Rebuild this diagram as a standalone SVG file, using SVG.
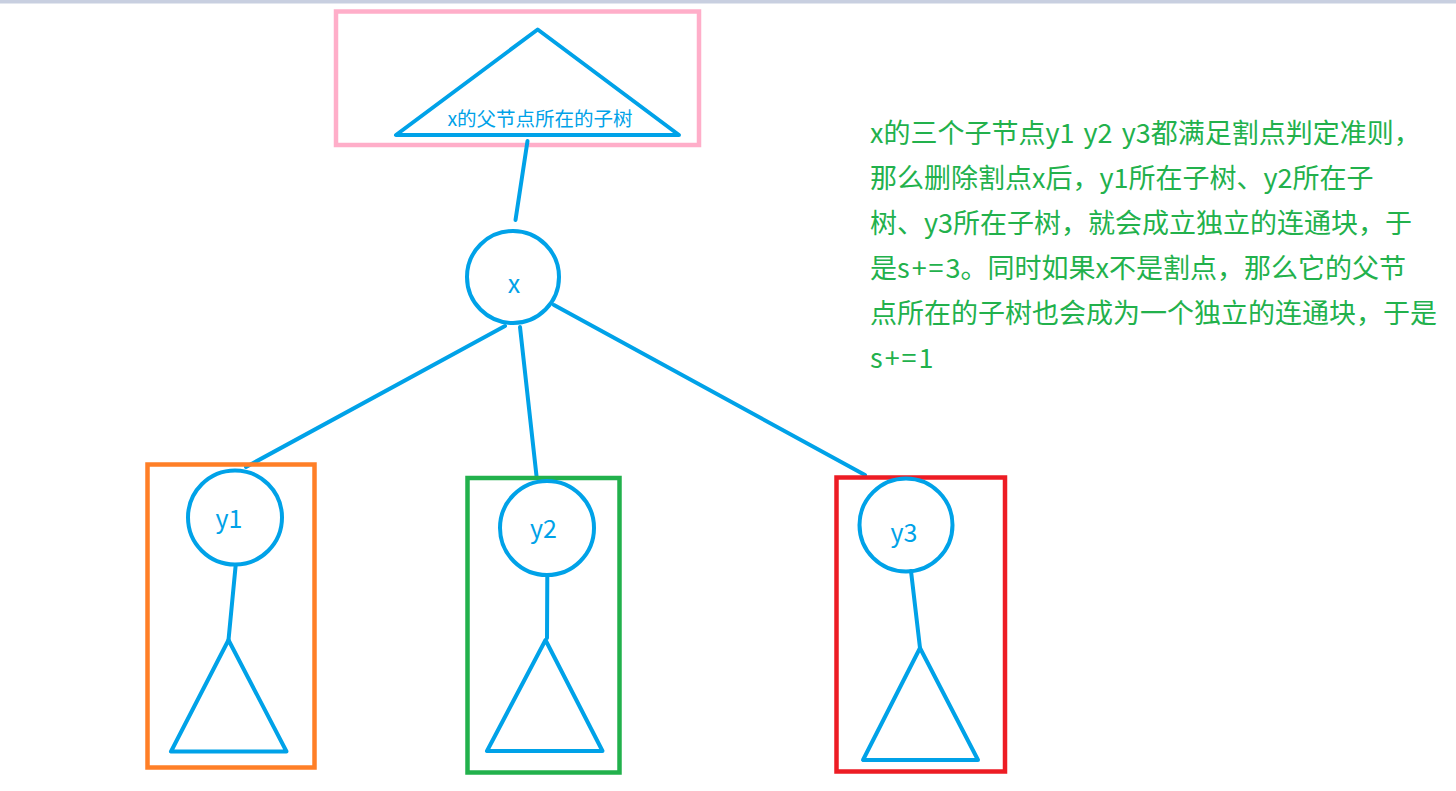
<svg xmlns="http://www.w3.org/2000/svg" width="1456" height="791" viewBox="0 0 1456 791">
<style>
.bl{fill:none;stroke:#00a2e8;stroke-width:4;stroke-linecap:round;stroke-linejoin:round}
.box{fill:none;stroke-width:4.5}
.lbl{fill:#00a2e8;font-family:"Noto Sans CJK SC","Noto Sans",sans-serif;text-anchor:middle}
.note{fill:#22b14c;font-family:"Noto Sans CJK SC","Noto Sans",sans-serif;font-size:27px;word-spacing:3px}
.sp{letter-spacing:2px}
</style>
<rect x="0" y="0" width="1456" height="791" fill="#ffffff"/>
<rect x="0" y="0" width="1456" height="3.5" fill="#c8cfe0"/>
<g id="parent-subtree">
<rect class="box" x="336" y="11.5" width="363" height="133.5" stroke="#ffaec9"/>
<polygon class="bl" points="537.7,29.5 396,135 679,135"/>
<text class="lbl" x="540" y="126" font-size="19.5">x的父节点所在的子树</text>
</g>
<g id="connectors">
<line class="bl" x1="527.5" y1="141" x2="515.5" y2="220"/>
<line class="bl" x1="505" y1="326" x2="246" y2="467"/>
<line class="bl" x1="520" y1="327" x2="536.5" y2="476"/>
<line class="bl" x1="554" y1="305" x2="865" y2="475"/>
<line class="bl" x1="235.7" y1="565" x2="228.5" y2="640"/>
<line class="bl" x1="547.3" y1="576" x2="547" y2="638"/>
<line class="bl" x1="911" y1="571" x2="920" y2="648"/>
</g>
<g id="node-x">
<circle class="bl" cx="513" cy="277" r="46"/>
<text class="lbl" x="514" y="293" font-size="25">x</text>
</g>
<g id="node-y1">
<rect class="box" x="147.5" y="464.5" width="167" height="303" stroke="#ff7f27"/>
<circle class="bl" cx="235" cy="517.5" r="47"/>
<text class="lbl" x="229" y="528" font-size="25">y1</text>
<polygon class="bl" points="228.5,640 171,751.5 286.5,751.5"/>
</g>
<g id="node-y2">
<rect class="box" x="467.5" y="478" width="152" height="294.5" stroke="#22b14c"/>
<circle class="bl" cx="547" cy="528" r="47"/>
<text class="lbl" x="543.5" y="538" font-size="25">y2</text>
<polygon class="bl" points="545.5,640 487,751 602.5,751"/>
</g>
<g id="node-y3">
<rect class="box" x="836.5" y="477.5" width="168.5" height="294" stroke="#ed1c24"/>
<circle class="bl" cx="906" cy="525" r="46.5"/>
<text class="lbl" x="904" y="541.5" font-size="25">y3</text>
<polygon class="bl" points="920,648 863,760 978,760"/>
</g>
<g id="note">
<text class="note" x="870" y="143">x的三个子节点y1 y2 y3都满足割点判定准则，</text>
<text class="note" x="870" y="188">那么删除割点x后，y1所在子树、y2所在子</text>
<text class="note" x="870" y="233">树、y3所在子树，就会成立独立的连通块，于</text>
<text class="note" x="870" y="278">是<tspan class="sp">s+=</tspan>3。同时如果x不是割点，那么它的父节</text>
<text class="note" x="870" y="323">点所在的子树也会成为一个独立的连通块，于是</text>
<text class="note" x="870" y="368"><tspan class="sp">s+=</tspan>1</text>
</g>
</svg>
